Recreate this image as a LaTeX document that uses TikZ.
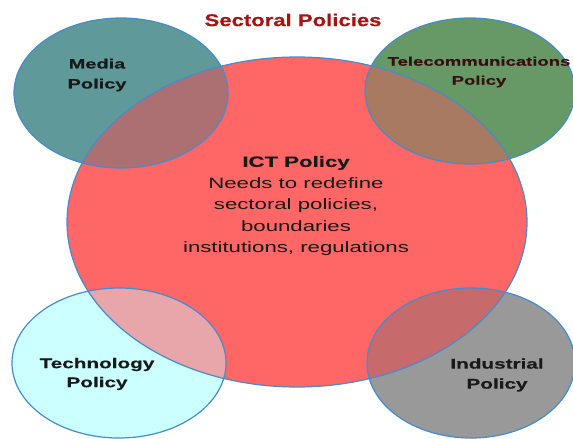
\documentclass[tikz,border=0pt]{standalone}
\usepackage{fontspec}
\setmainfont{Liberation Sans}[FakeStretch=1.48, BoldFeatures={FakeBold=0.4}]
\newfontfamily\titlefont{Liberation Sans}[FakeStretch=1.3, BoldFeatures={FakeBold=0.4}]

\definecolor{ictred}{RGB}{255,102,102}
\definecolor{mediateal}{RGB}{95,153,153}
\definecolor{telegreen}{RGB}{102,153,102}
\definecolor{techcyan}{RGB}{204,255,255}
\definecolor{indgrey}{RGB}{153,153,153}
\definecolor{mediamix}{RGB}{172,112,114}
\definecolor{telemix}{RGB}{168,122,98}
\definecolor{techmix}{RGB}{232,166,170}
\definecolor{indmix}{RGB}{198,106,108}
\definecolor{rimblue}{RGB}{70,140,205}
\definecolor{titlered}{RGB}{165,20,20}
\definecolor{teletext}{RGB}{55,15,15}

% the five ovals
\newcommand{\ictoval}{(297,222) ellipse [x radius=230pt, y radius=165pt]}
\newcommand{\mediaoval}{(121,93) ellipse [x radius=107pt, y radius=75pt]}
\newcommand{\teleoval}{(470,91) ellipse [x radius=105pt, y radius=73pt]}
\newcommand{\techoval}{(119,363) ellipse [x radius=107pt, y radius=75pt]}
\newcommand{\indoval}{(471,363) ellipse [x radius=104pt, y radius=75pt]}

\begin{document}
\begin{tikzpicture}[x=1pt,y=-1pt,
    rim/.style={draw=rimblue, line width=1.2pt},
    lbl/.style={align=center, text=black!90,
      font=\bfseries\fontsize{13.5}{20}\selectfont}]

    \useasboundingbox (0,0) rectangle (573,439);

    % Fill the sector ovals and the ICT oval
    \fill[mediateal] \mediaoval;
    \fill[telegreen] \teleoval;
    \fill[techcyan] \techoval;
    \fill[indgrey] \indoval;
    \fill[ictred] \ictoval;

    % Where a sector overlaps ICT
    \begin{scope}
        \clip \ictoval;
        \fill[mediamix] \mediaoval;
        \fill[telemix] \teleoval;
        \fill[techmix] \techoval;
        \fill[indmix] \indoval;
    \end{scope}

    % Outlines on top
    \draw[rim] \ictoval;
    \draw[rim] \mediaoval;
    \draw[rim] \teleoval;
    \draw[rim] \techoval;
    \draw[rim] \indoval;

    % Labels
    \node[font=\titlefont\bfseries\fontsize{17}{19}\selectfont, text=titlered] (title) at (293,20) {Sectoral Policies};
    \node[lbl] (media) at (97,75) {Media\\Policy};
    \node[lbl, text=teletext, font=\bfseries\fontsize{12.5}{19}\selectfont] (tele) at (479,72) {Telecommunications\\Policy};
    \node[lbl, font=\fontsize{15}{21.5}\selectfont] (ict) at (296,206)
        {\bfseries ICT Policy\\Needs to redefine\\sectoral policies,\\boundaries\\institutions, regulations};
    \node[lbl, font=\bfseries\fontsize{14}{19}\selectfont] (tech) at (97,374) {Technology\\Policy};
    \node[lbl, font=\bfseries\fontsize{14}{20}\selectfont] (ind) at (497,375) {Industrial\\Policy};
\end{tikzpicture}
\end{document}
